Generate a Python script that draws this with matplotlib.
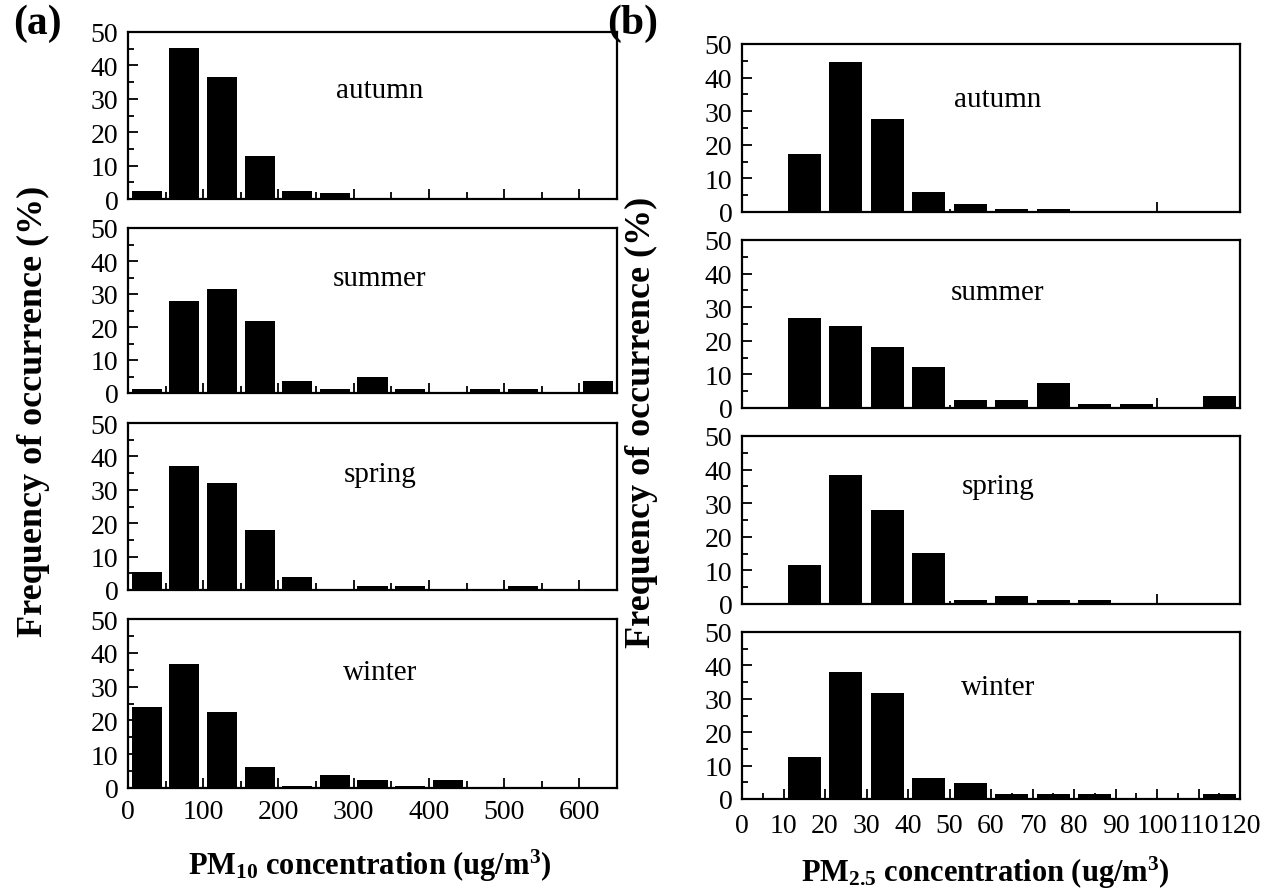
import matplotlib
matplotlib.use("Agg")
import matplotlib.pyplot as plt
from matplotlib.ticker import MultipleLocator, FixedLocator, NullFormatter

plt.rcParams['font.family'] = ['Liberation Serif', 'DejaVu Serif']
plt.rcParams['mathtext.fontset'] = 'custom'
plt.rcParams['mathtext.rm'] = 'Liberation Serif:bold'
plt.rcParams['mathtext.bf'] = 'Liberation Serif:bold'
plt.rcParams['mathtext.it'] = 'Liberation Serif:bold'

seasons = ["autumn", "summer", "spring", "winter"]

# PM10 histogram (bin centres, ug/m3) and frequency (%)
pm10_bins = [25, 75, 125, 175, 225, 275, 325, 375, 425, 475, 525, 575, 625]
pm10_autumn = [2.5, 45.3, 36.6, 13, 2.5, 1.7, 0, 0, 0, 0, 0, 0, 0]
pm10_summer = [1.1, 28, 31.6, 21.9, 3.6, 1.1, 4.8, 1.1, 0, 1.1, 1.1, 0, 3.6]
pm10_spring = [5.3, 37, 32, 18, 4, 0, 1.3, 1.3, 0, 0, 1.3, 0, 0]
pm10_winter = [24, 36.8, 22.4, 6.3, 0.6, 3.9, 2.4, 0.6, 2.4, 0, 0, 0, 0]

# PM2.5 histogram
pm25_bins = [15, 25, 35, 45, 55, 65, 75, 85, 95, 105, 115]
pm25_autumn = [17.3, 44.5, 27.8, 6, 2.5, 1, 1, 0, 0, 0, 0]
pm25_summer = [26.8, 24.4, 18.3, 12.3, 2.4, 2.4, 7.3, 1.2, 1.2, 0, 3.6]
pm25_spring = [11.5, 38.5, 28.1, 15.3, 1.1, 2.5, 1.1, 1.1, 0, 0, 0]
pm25_winter = [12.7, 38.1, 31.8, 6.4, 4.8, 1.6, 1.6, 1.6, 0, 0, 1.6]

pm10_data = [pm10_autumn, pm10_summer, pm10_spring, pm10_winter]
pm25_data = [pm25_autumn, pm25_summer, pm25_spring, pm25_winter]

W, H = 1273, 895
fig = plt.figure(figsize=(W / 100, H / 100), dpi=100)

# panel boxes in pixels (top, bottom)
left_rows = [(33, 200), (229, 394), (424, 591), (620, 789)]
right_rows = [(45, 213), (241, 409), (437, 605), (633, 800)]
left_x = (128, 617)
right_x = (742, 1240)
left_txt_y = [0.65, 0.70, 0.695, 0.686]
right_txt_y = [0.67, 0.69, 0.70, 0.67]


def make_ax(xr, yr):
    return fig.add_axes([xr[0] / W, 1 - yr[1] / H, (xr[1] - xr[0]) / W, (yr[1] - yr[0]) / H])


def style_y(ax):
    ax.set_ylim(0, 50)
    ax.yaxis.set_major_locator(MultipleLocator(10))
    ax.yaxis.set_minor_locator(MultipleLocator(5))
    ax.tick_params(axis='y', which='both', direction='in', left=True, right=False,
                   labelsize=20, pad=7)
    ax.tick_params(axis='y', which='major', length=7, width=1.3)
    ax.tick_params(axis='y', which='minor', length=4, width=1.3)
    for s in ax.spines.values():
        s.set_linewidth(1.6)


for i, season in enumerate(seasons):
    # (a) PM10
    ax = make_ax(left_x, left_rows[i])
    ax.bar(pm10_bins, pm10_data[i], width=40, color='black')
    ax.set_xlim(0, 650)
    style_y(ax)
    ax.xaxis.set_major_locator(MultipleLocator(100))
    ax.xaxis.set_minor_locator(MultipleLocator(50))
    ax.tick_params(axis='x', which='both', direction='in', top=False, width=1.3,
                   labelsize=20, pad=8)
    ax.tick_params(axis='x', which='major', length=7)
    ax.tick_params(axis='x', which='minor', length=5)
    if i < 3:
        ax.xaxis.set_major_formatter(NullFormatter())
    ax.text(0.515, left_txt_y[i], season, transform=ax.transAxes, fontsize=21,
            ha='center', va='center')

    # (b) PM2.5
    ax = make_ax(right_x, right_rows[i])
    ax.bar(pm25_bins, pm25_data[i], width=8, color='black')
    ax.set_xlim(0, 120)
    style_y(ax)
    if i < 3:
        ax.xaxis.set_major_locator(FixedLocator([100]))
        ax.xaxis.set_minor_locator(FixedLocator([50]))
        ax.xaxis.set_major_formatter(NullFormatter())
        ax.tick_params(axis='x', which='minor', length=2)
    else:
        ax.xaxis.set_major_locator(MultipleLocator(10))
        ax.xaxis.set_minor_locator(MultipleLocator(5))
        ax.tick_params(axis='x', which='minor', length=4)
    ax.tick_params(axis='x', which='both', direction='in', top=False, width=1.3,
                   labelsize=20, pad=10)
    ax.tick_params(axis='x', which='major', length=7)
    ax.text(0.514, right_txt_y[i], season, transform=ax.transAxes, fontsize=21,
            ha='center', va='center')

# panel letters
fig.text(37 / W, 1 - 24 / H, "(a)", fontsize=30, fontweight='bold', ha='center', va='center')
fig.text(633 / W, 1 - 24 / H, "(b)", fontsize=30, fontweight='bold', ha='center', va='center')

# y labels
fig.text(33 / W, 1 - 411 / H, "Frequency of occurrence (%)", fontsize=26, fontweight='bold',
         rotation=90, ha='center', va='center')
fig.text(641 / W, 1 - 422 / H, "Frequency of occurrence (%)", fontsize=26, fontweight='bold',
         rotation=90, ha='center', va='center')

# x labels
fig.text(370 / W, 1 - 866 / H, r"PM$_{\mathbf{10}}$ concentration (ug/m$^{\mathbf{3}}$)",
         fontsize=22, fontweight='bold', ha='center', va='center')
fig.text(985 / W, 1 - 873 / H, r"PM$_{\mathbf{2.5}}$ concentration (ug/m$^{\mathbf{3}}$)",
         fontsize=22, fontweight='bold', ha='center', va='center')

fig.savefig("out.png", dpi=100)
